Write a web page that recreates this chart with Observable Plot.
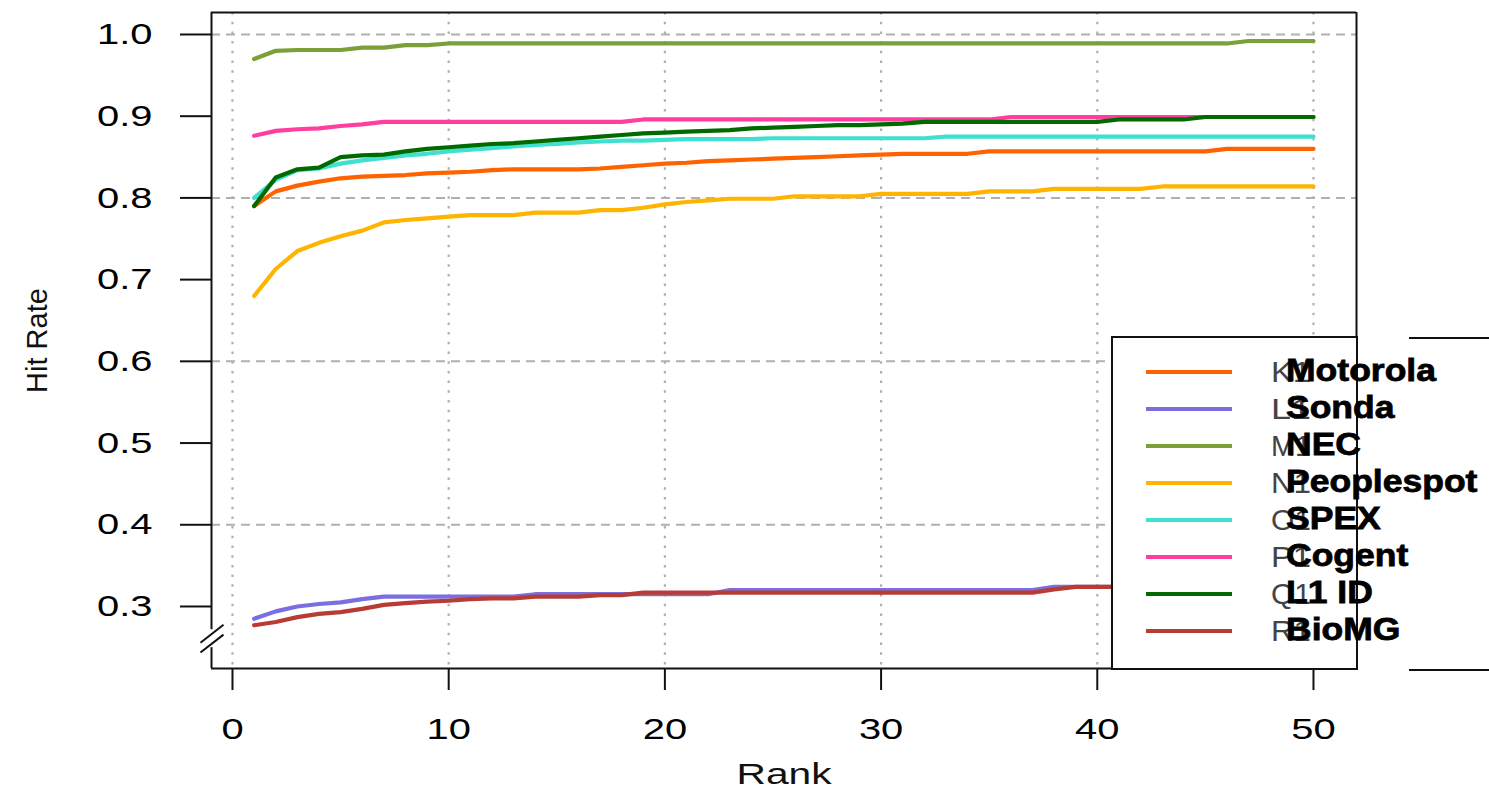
<!DOCTYPE html>
<html>
<head>
<meta charset="utf-8">
<script src="https://cdn.jsdelivr.net/npm/d3@7"></script>
<script src="https://cdn.jsdelivr.net/npm/@observablehq/plot@0.6"></script>
<style>
  html, body { margin: 0; padding: 0; background: #fff; }
  #chart svg { display: block; }
</style>
</head>
<body>
<div id="chart"></div>
<script>
// ---------- data ----------
const ranks = [1,2,3,4,5,6,7,8,9,10,11,12,13,14,15,16,17,18,19,20,21,22,23,24,25,
               26,27,28,29,30,31,32,33,34,35,36,37,38,39,40,41,42,43,44,45,46,47,48,49,50];

const seriesNames = ["Motorola", "Sonda", "NEC", "Peoplespot", "SPEX", "Cogent", "L1 ID", "BioMG"];
const oldLabels   = ["K1", "L1", "M1", "N1", "O1", "P1", "Q1", "R1"];
const seriesColors = ["#ff6300", "#7b6fe0", "#7ba03a", "#ffb400", "#40e0d0", "#ff3ea0", "#006a00", "#b83c34"];

const motorola = [.790,.808,.815,.820,.824,.826,.827,.828,.830,.831,.832,.834,.835,.835,.835,.835,.836,.838,.840,.842,
                  .843,.845,.846,.847,.848,.849,.850,.851,.852,.853,.854,.854,.854,.854,.857,.857,.857,.857,.857,.857,
                  .857,.857,.857,.857,.857,.860,.860,.860,.860,.860];
const sonda = [.285,.294,.300,.303,.305,.309,.312,.312,.312,.312,.312,.312,.312,.315,.315,.315,.315,.315,.315,.315,
               .315,.315,.320,.320,.320,.320,.320,.320,.320,.320,.320,.320,.320,.320,.320,.320,.320,.324,.324,.324,
               .324,.324,.324,.324,.324,.324,.324,.324,.324,.324];
const nec = [.970,.980,.981,.981,.981,.984,.984,.987,.987,.989,.989,.989,.989,.989,.989,.989,.989,.989,.989,.989,
             .989,.989,.989,.989,.989,.989,.989,.989,.989,.989,.989,.989,.989,.989,.989,.989,.989,.989,.989,.989,
             .989,.989,.989,.989,.989,.989,.992,.992,.992,.992];
const peoplespot = [.680,.713,.735,.745,.753,.760,.770,.773,.775,.777,.779,.779,.779,.782,.782,.782,.785,.785,.788,.792,
                    .795,.797,.799,.799,.799,.802,.802,.802,.802,.805,.805,.805,.805,.805,.808,.808,.808,.811,.811,.811,
                    .811,.811,.814,.814,.814,.814,.814,.814,.814,.814];
const spex = [.800,.822,.834,.836,.842,.846,.849,.852,.854,.857,.859,.861,.863,.865,.866,.868,.869,.870,.870,.871,
              .872,.872,.872,.872,.873,.873,.873,.873,.873,.873,.873,.873,.875,.875,.875,.875,.875,.875,.875,.875,
              .875,.875,.875,.875,.875,.875,.875,.875,.875,.875];
const cogent = [.876,.882,.884,.885,.888,.890,.893,.893,.893,.893,.893,.893,.893,.893,.893,.893,.893,.893,.896,.896,
                .896,.896,.896,.896,.896,.896,.896,.896,.896,.896,.896,.896,.896,.896,.896,.899,.899,.899,.899,.899,
                .899,.899,.899,.899,.899,.899,.899,.899,.899,.899];
const l1id = [.790,.825,.835,.837,.850,.852,.853,.857,.860,.862,.864,.866,.867,.869,.871,.873,.875,.877,.879,.880,
              .881,.882,.883,.885,.886,.887,.888,.889,.889,.890,.891,.893,.893,.893,.893,.893,.893,.893,.893,.893,
              .896,.896,.896,.896,.899,.899,.899,.899,.899,.899];
const biomg = [.277,.281,.287,.291,.293,.297,.302,.304,.306,.307,.309,.310,.310,.312,.312,.312,.314,.314,.317,.317,
               .317,.317,.317,.317,.317,.317,.317,.317,.317,.317,.317,.317,.317,.317,.317,.317,.317,.321,.324,.324,
               .324,.324,.324,.324,.324,.324,.324,.324,.324,.324];

const xTicks = [0, 10, 20, 30, 40, 50];
const yTicks = [0.3, 0.4, 0.5, 0.6, 0.7, 0.8, 0.9, 1.0];
const yGrid  = [0.4, 0.6, 0.8, 1.0];

// ---------- build table ----------
const seriesValues = [motorola, sonda, nec, peoplespot, spex, cogent, l1id, biomg];
const rows = [];
seriesNames.forEach((name, i) => {
  ranks.forEach((r, j) => rows.push({series: name, rank: r, value: seriesValues[i][j]}));
});

// ---------- layout ----------
const W = 1489, H = 796;
const mL = 211, mR = 133, mT = 12, mB = 128;
const xDom = [-0.971, 51.99];
const yDom = [0.2241, 1.0269];
const breakY = 0.2606;          // centre of the axis break
const gapHalf = 0.011;          // half height of gap in the left axis line
const lineCol = "#111";
const gridCol = "#b0b0b0";

const plot = Plot.plot({
  width: W, height: H,
  marginLeft: mL, marginRight: mR, marginTop: mT, marginBottom: mB,
  style: {fontFamily: "'Liberation Sans', Arial, sans-serif", fontSize: "30px", color: "#000", background: "#fff", overflow: "visible"},
  x: {domain: xDom, ticks: xTicks, tickSize: 22, tickPadding: 27, tickFormat: d3.format("d"), label: null},
  y: {domain: yDom, ticks: yTicks, tickSize: 31, tickPadding: 28, tickFormat: d3.format(".1f"), label: null},
  color: {domain: seriesNames, range: seriesColors},
  marks: [
    Plot.ruleX(xTicks, {stroke: gridCol, strokeWidth: 2.2, strokeDasharray: "2.5,7.2"}),
    Plot.ruleY(yGrid, {stroke: gridCol, strokeWidth: 2, strokeDasharray: "9,6"}),
    Plot.line(rows, {x: "rank", y: "value", z: "series", stroke: "series", strokeWidth: 4.2, strokeLinejoin: "miter"}),
    // frame
    Plot.ruleY([yDom[1]], {stroke: lineCol, strokeWidth: 2}),
    Plot.ruleY([yDom[0]], {stroke: lineCol, strokeWidth: 2}),
    Plot.ruleX([xDom[1]], {stroke: lineCol, strokeWidth: 2}),
    Plot.ruleX([{x: xDom[0], y1: breakY + gapHalf, y2: yDom[1]}, {x: xDom[0], y1: yDom[0], y2: breakY - gapHalf}],
               {x: "x", y1: "y1", y2: "y2", stroke: lineCol, strokeWidth: 2}),
    // axis break slashes
    Plot.link([breakY - 0.006, breakY + 0.006], {
      x1: xDom[0] - 0.51, x2: xDom[0] + 0.555,
      y1: d => d - 0.011, y2: d => d + 0.011,
      stroke: lineCol, strokeWidth: 2
    }),
    // axis titles
    Plot.text(["Rank"], {frameAnchor: "bottom", dy: 115, fontSize: 29, fill: "#111"}),
    Plot.text(["Hit Rate"], {frameAnchor: "left", textAnchor: "middle", dx: -174, rotate: -90, fontSize: 29, fill: "#111"})
  ]
});

document.getElementById("chart").appendChild(plot);
const svg = d3.select(plot);

// stretch texts horizontally like the reference
function stretch(sel, factor) {
  sel.each(function() {
    const len = this.getComputedTextLength();
    if (len > 0) {
      this.setAttribute("textLength", (len * factor).toFixed(1));
      this.setAttribute("lengthAdjust", "spacingAndGlyphs");
    }
  });
}
stretch(svg.selectAll('g[aria-label^="x-axis"] text, g[aria-label^="y-axis"] text'), 1.33);
svg.selectAll('g[aria-label^="x-axis"] path, g[aria-label^="y-axis"] path').attr("stroke-width", 2).attr("stroke", lineCol);
svg.selectAll('g[aria-label="text"] text').each(function() {
  if (this.textContent === "Rank") {
    this.setAttribute("textLength", 95);
    this.setAttribute("lengthAdjust", "spacingAndGlyphs");
  }
});

// ---------- legend ----------
const lg = svg.append("g")
  .attr("font-family", "'Liberation Sans', Arial, sans-serif")
  .attr("text-anchor", "start");
const box = {x: 1112, y: 337, w: 245, h: 332};
lg.append("rect").attr("x", box.x).attr("y", box.y).attr("width", box.w).attr("height", box.h)
  .attr("fill", "#fff").attr("stroke", lineCol).attr("stroke-width", 2);
const rowH = 37, firstY = 372;
seriesNames.forEach((name, i) => {
  const y = firstY + i * rowH;
  lg.append("line").attr("x1", 1146).attr("x2", 1232).attr("y1", y).attr("y2", y)
    .attr("stroke", seriesColors[i]).attr("stroke-width", 4.2);
  lg.append("text").attr("x", 1271).attr("y", y + 10).attr("font-size", 30).attr("fill", "#444")
    .attr("text-anchor", "start")
    .attr("textLength", 40).attr("lengthAdjust", "spacingAndGlyphs").text(oldLabels[i]);
});
// plot frame right edge drawn over legend region
lg.append("line").attr("x1", box.x + box.w).attr("x2", box.x + box.w).attr("y1", box.y).attr("y2", box.y + box.h)
  .attr("stroke", lineCol).attr("stroke-width", 2);
seriesNames.forEach((name, i) => {
  const y = firstY + i * rowH;
  const t = lg.append("text").attr("x", 1286).attr("y", y + 9).attr("font-size", 32)
    .attr("text-anchor", "start")
    .attr("font-weight", "bold").attr("fill", "#000")
    .attr("stroke", "#000").attr("stroke-width", 0.8)
    .text(name);
  stretch(t, 1.11);
});
// stray box edges on the right
[338, 670].forEach(y => {
  lg.append("line").attr("x1", 1409).attr("x2", 1489).attr("y1", y).attr("y2", y)
    .attr("stroke", lineCol).attr("stroke-width", 2);
});
</script>
</body>
</html>
